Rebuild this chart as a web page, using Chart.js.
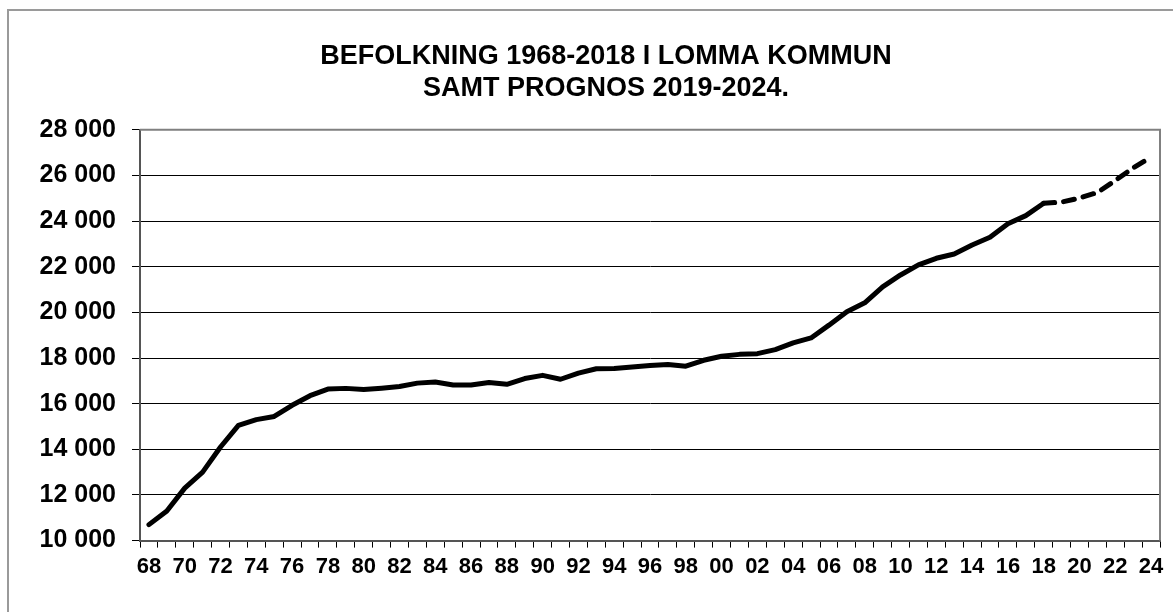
<!DOCTYPE html>
<html>
<head>
<meta charset="utf-8">
<script src="https://cdn.jsdelivr.net/npm/chart.js@4/dist/chart.umd.min.js"></script>
<style>
  html, body { margin: 0; padding: 0; background: #fff; }
  #wrap { width: 1173px; height: 612px; position: relative; }
</style>
</head>
<body>
<div id="wrap"><canvas id="popChart"></canvas></div>
<script>
// Befolkning Lomma kommun 1968-2018 + prognos 2019-2024
const years = ['68','69','70','71','72','73','74','75','76','77','78','79',
    '80','81','82','83','84','85','86','87','88','89',
    '90','91','92','93','94','95','96','97','98','99',
    '00','01','02','03','04','05','06','07','08','09',
    '10','11','12','13','14','15','16','17','18','19',
    '20','21','22','23','24'];

// 1968-2018
const actual = [10700, 11300, 12300, 13000, 14100, 15050, 15300, 15440, 15930, 16350,
    16640, 16670, 16620, 16680, 16750, 16900, 16950, 16820, 16820, 16930,
    16850, 17100, 17240, 17070, 17340, 17530, 17540, 17610, 17670, 17720,
    17640, 17900, 18080, 18160, 18190, 18370, 18660, 18880, 19440, 20030,
    20420, 21120, 21640, 22080, 22370, 22560, 22950, 23290, 23880, 24240,
    24780];

// 2019-2024
const forecast = [24830, 25010, 25250, 25780, 26330, 26800];

const yTicks = [10000, 12000, 14000, 16000, 18000, 20000, 22000, 24000, 26000, 28000];

const actualSeries = years.map((y, i) => i < actual.length ? actual[i] : null);
const forecastSeries = years.map((y, i) => {
    if (i === actual.length - 1) return actual[i];
    if (i >= actual.length) return forecast[i - actual.length];
    return null;
});

const FONT = 'Arial, "Liberation Sans", sans-serif';

// outer frame + plot frame like the Excel original
const framePlugin = {
    id: 'frames',
    afterLayout(chart) {
        // title is centred on the whole chart object in the original, not the canvas
        if (chart.titleBlock) {
            chart.titleBlock.left = 52;
            chart.titleBlock.right = 1160;
        }
    },
    beforeDraw(chart) {
        const ctx = chart.ctx;
        ctx.save();
        ctx.strokeStyle = '#9a9a9a';
        ctx.lineWidth = 2;
        ctx.strokeRect(8, 10, 1200, 640);
        ctx.restore();
    },
    beforeDatasetsDraw(chart) {
        const a = chart.chartArea;
        const ctx = chart.ctx;
        ctx.save();
        ctx.strokeStyle = '#808080';
        ctx.lineWidth = 2;
        ctx.beginPath();
        ctx.moveTo(a.left, a.top);
        ctx.lineTo(a.right, a.top);
        ctx.lineTo(a.right, a.bottom);
        ctx.stroke();
        ctx.restore();
    }
};

const ctx = document.getElementById('popChart');
new Chart(ctx, {
    type: 'line',
    data: {
        labels: years,
        datasets: [{
            label: 'Befolkning',
            data: actualSeries,
            borderColor: '#000',
            borderWidth: 5,
            pointRadius: 0,
            tension: 0,
            spanGaps: false,
            borderCapStyle: 'round',
            borderJoinStyle: 'round'
        }, {
            label: 'Prognos',
            data: forecastSeries,
            borderColor: '#000',
            borderWidth: 5,
            borderDash: [11, 9],
            borderCapStyle: 'round',
            pointRadius: 0,
            tension: 0
        }]
    },
    options: {
        responsive: true,
        maintainAspectRatio: false,
        animation: false,
        layout: {
            padding: { left: 0, right: 13, top: 0, bottom: 26 }
        },
        plugins: {
            legend: { display: false },
            tooltip: { enabled: false },
            title: {
                display: true,
                text: ['BEFOLKNING 1968-2018 I LOMMA KOMMUN', 'SAMT PROGNOS 2019-2024.'],
                color: '#000',
                font: { family: FONT, size: 27, weight: 'bold', lineHeight: 1.2 },
                padding: { top: 40, bottom: 25 }
            }
        },
        scales: {
            x: {
                offset: true,
                grid: {
                    display: true,
                    offset: true,
                    drawOnChartArea: false,
                    drawTicks: true,
                    tickLength: 7,
                    color: '#000',
                    lineWidth: 1
                },
                border: { display: true, color: '#555', width: 2 },
                ticks: {
                    autoSkip: false,
                    maxRotation: 0,
                    minRotation: 0,
                    padding: 6,
                    color: '#000',
                    font: { family: FONT, size: 22, weight: 'bold' },
                    callback: function (val, i) {
                        return i % 2 === 0 ? this.getLabelForValue(val) : '';
                    }
                }
            },
            y: {
                min: 10000,
                max: 28000,
                afterFit(scale) { scale.width = 140; },
                afterBuildTicks(scale) {
                    scale.ticks = yTicks.map(v => ({ value: v }));
                },
                grid: {
                    color: '#000',
                    lineWidth: 1,
                    tickLength: 8
                },
                border: { display: true, color: '#555', width: 2 },
                ticks: {
                    padding: 16,
                    color: '#000',
                    font: { family: FONT, size: 25, weight: 'bold' },
                    callback: v => String(v).replace(/\B(?=(\d{3})+(?!\d))/g, ' ')
                }
            }
        }
    },
    plugins: [framePlugin]
});
</script>
</body>
</html>
